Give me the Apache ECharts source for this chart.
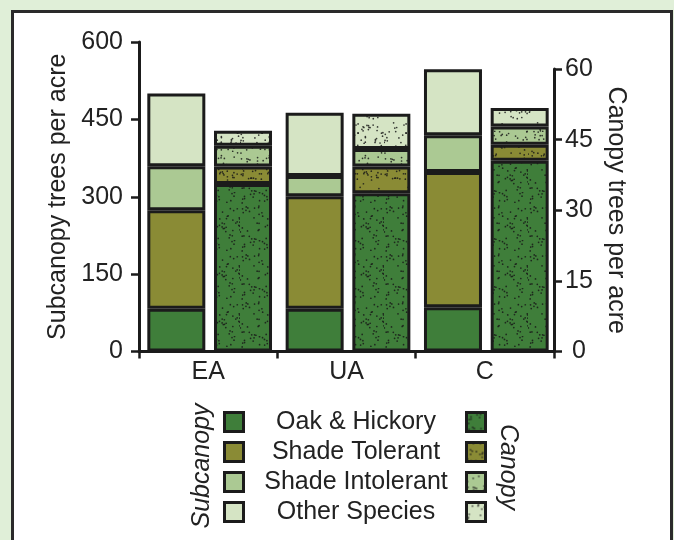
<!DOCTYPE html>
<html>
<head>
<meta charset="utf-8">
<script src="https://cdn.jsdelivr.net/npm/echarts@6/dist/echarts.min.js"></script>
<style>
  html, body { margin: 0; padding: 0; width: 674px; height: 540px; overflow: hidden; background: #e0efd8; }
  #panel { position: absolute; left: 11px; top: 10px; width: 656px; height: 560px; background: #fff; border: 3px solid #2a2a2a; }
  #chart { position: absolute; left: 0; top: 0; width: 674px; height: 540px; }
</style>
</head>
<body>
<div id="panel"></div>
<div id="chart"></div>
<script>
// Sites along the x axis
const categories = ['EA', 'UA', 'C'];
// Species groups (shared by both layers)
const groupNames = ['Oak & Hickory', 'Shade Tolerant', 'Shade Intolerant', 'Other Species'];

// Subcanopy trees per acre (left axis)
const subOak = [83, 83, 86];
const subShadeTolerant = [191, 218, 262];
const subShadeIntolerant = [85, 39, 71];
const subOther = [141, 123, 128];

// Canopy trees per acre (right axis)
const canOak = [35.6, 33.6, 40.5];
const canShadeTolerant = [3.7, 5.7, 3.4];
const canShadeIntolerant = [4.4, 3.7, 3.9];
const canOther = [3.2, 7.5, 3.9];

// Axis ticks
const subTicks = { min: 0, max: 600, interval: 150 };
const canTicks = { min: 0, max: 60, interval: 15 };

const FONT = "'Liberation Sans', Arial, Helvetica, sans-serif";
const INK = '#222222';
const EDGE = '#1b1b1b';
const groupColors = ['#3f7e3a', '#8a8b35', '#abc993', '#d5e4c4'];

// Stippled fill for the canopy bars: a base colour sprinkled with small dark dots
function stipple(base, seed) {
  const size = 48;
  const c = document.createElement('canvas');
  c.width = size; c.height = size;
  const ctx = c.getContext('2d');
  ctx.fillStyle = base;
  ctx.fillRect(0, 0, size, size);
  let s = seed;
  const next = () => { s = (s * 1103515245 + 12345) & 0x7fffffff; return s / 0x7fffffff; };
  ctx.fillStyle = 'rgba(25,25,25,0.85)';
  for (let i = 0; i < 76; i++) {
    const x = next() * size, y = next() * size;
    ctx.beginPath();
    ctx.arc(x, y, 0.85, 0, Math.PI * 2);
    ctx.fill();
  }
  return { image: c, repeat: 'repeat' };
}

const subSeriesData = [subOak, subShadeTolerant, subShadeIntolerant, subOther];
const canSeriesData = [canOak, canShadeTolerant, canShadeIntolerant, canOther];
const canNames = groupNames.map(n => 'Canopy ' + n);

const BAR_W = 58;
const barCommon = { type: 'bar', barWidth: BAR_W, barGap: '15%', animation: false };

const series = [];
subSeriesData.forEach((d, i) => {
  series.push(Object.assign({}, barCommon, {
    name: groupNames[i], xAxisIndex: 0, yAxisIndex: 0, stack: 'sub', data: d,
    itemStyle: { color: groupColors[i], borderColor: EDGE, borderWidth: 3 }
  }));
});
// empty slot so subcanopy bars sit on the left half of each site
series.push(Object.assign({}, barCommon, { barWidth: 55, xAxisIndex: 0, yAxisIndex: 0, stack: 'slotRight', data: [] }));
// empty slot so canopy bars sit on the right half of each site
series.push(Object.assign({}, barCommon, { barWidth: 60.6, xAxisIndex: 1, yAxisIndex: 1, stack: 'slotLeft', data: [] }));
canSeriesData.forEach((d, i) => {
  series.push(Object.assign({}, barCommon, {
    name: canNames[i], xAxisIndex: 1, yAxisIndex: 1, stack: 'can', data: d,
    itemStyle: { color: stipple(groupColors[i], 17 + i * 31), borderColor: EDGE, borderWidth: 3 }
  }));
});

const axisLineStyle = { color: EDGE, width: 3 };
const tickStyle = { color: EDGE, width: 2.5 };
const labelStyle = { fontSize: 25, color: INK, fontFamily: FONT };

// Legend rows: icons come from the legend components, names are centred between the two icon columns
const legendTop = 411;
const legendPitch = 30;
const legendLabels = groupNames.map((n, i) => ({
  type: 'text', x: 356, y: legendTop + 11.5 + i * legendPitch,
  style: { text: n, font: "25px 'Liberation Sans', Arial, sans-serif", fill: INK, align: 'center', verticalAlign: 'middle' }
}));

const legendCommon = {
  orient: 'vertical', top: legendTop, height: 125, padding: 0,
  itemWidth: 19, itemHeight: 19, itemGap: legendPitch - 22, icon: 'rect', selectedMode: false,
  itemStyle: { borderColor: EDGE, borderWidth: 3 },
  formatter: () => '',
  textStyle: { fontSize: 1, lineHeight: 19 }
};

const chart = echarts.init(document.getElementById('chart'), null, { renderer: 'canvas' });
chart.setOption({
  animation: false,
  backgroundColor: 'transparent',
  textStyle: { fontFamily: FONT },
  grid: [
    { left: 139, right: 120, top: 42, bottom: 188.5, containLabel: false, outerBoundsMode: 'none' },
    { left: 139, right: 120, top: 69, bottom: 188.5, containLabel: false, outerBoundsMode: 'none' }
  ],
  xAxis: [
    {
      gridIndex: 0, type: 'category', data: categories,
      axisLine: { show: true, lineStyle: axisLineStyle },
      axisTick: { show: true, length: 7, interval: 0, alignWithLabel: false, lineStyle: tickStyle },
      axisLabel: Object.assign({ margin: 8, interval: 0 }, labelStyle),
      splitLine: { show: false }
    },
    { gridIndex: 1, type: 'category', data: categories, show: false }
  ],
  yAxis: [
    {
      gridIndex: 0, type: 'value', position: 'left',
      min: subTicks.min, max: subTicks.max, interval: subTicks.interval,
      name: 'Subcanopy trees per acre', nameLocation: 'middle', nameGap: 60,
      nameTextStyle: { fontSize: 25, color: INK, fontFamily: FONT },
      axisLine: { show: true, lineStyle: axisLineStyle },
      axisTick: { show: true, length: 8, lineStyle: tickStyle },
      axisLabel: Object.assign({ margin: 16 }, labelStyle),
      splitLine: { show: false }
    },
    {
      gridIndex: 1, type: 'value', position: 'right',
      min: canTicks.min, max: canTicks.max, interval: canTicks.interval,
      name: 'Canopy trees per acre', nameLocation: 'middle', nameGap: 45, nameRotate: -90,
      nameTextStyle: { fontSize: 25, color: INK, fontFamily: FONT },
      axisLine: { show: true, lineStyle: axisLineStyle },
      axisTick: { show: true, length: 8, lineStyle: tickStyle },
      axisLabel: Object.assign({ margin: 11, formatter: v => (v === 0 ? ' 0' : String(v)) }, labelStyle),
      splitLine: { show: false }
    }
  ],
  legend: [
    Object.assign({ data: groupNames, left: 223 }, legendCommon),
    Object.assign({ data: canNames, left: 465 }, legendCommon)
  ],
  graphic: [
    {
      type: 'text', x: 202, y: 466, rotation: Math.PI / 2,
      style: { text: 'Subcanopy', font: "italic 25px 'Liberation Sans', Arial, sans-serif", fill: INK, align: 'center', verticalAlign: 'middle' }
    },
    {
      type: 'text', x: 508, y: 467, rotation: -Math.PI / 2,
      style: { text: 'Canopy', font: "italic 25px 'Liberation Sans', Arial, sans-serif", fill: INK, align: 'center', verticalAlign: 'middle' }
    }
  ].concat(legendLabels),
  series: series
});
</script>
</body>
</html>
